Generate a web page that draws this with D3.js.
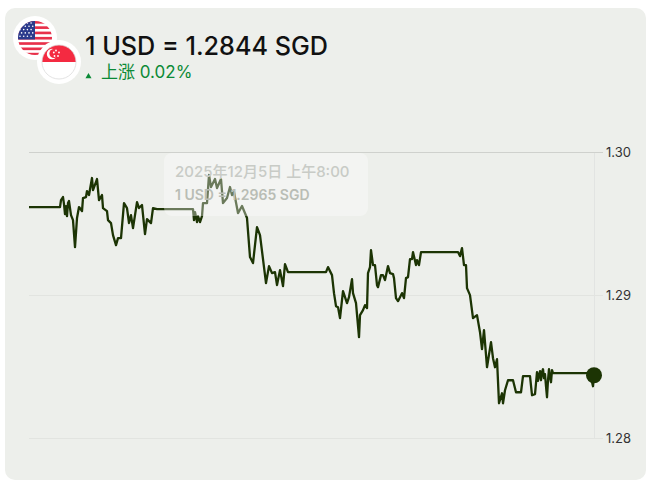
<!DOCTYPE html>
<html><head><meta charset="utf-8">
<script src="https://cdn.jsdelivr.net/npm/d3@7/dist/d3.min.js"></script>
<style>html,body{margin:0;padding:0;background:#fff}svg{display:block}text{font-family:Inter,"Noto Sans CJK SC",sans-serif}</style>
</head><body><svg id="c" width="652" height="492"></svg>
<script>
const titleText = "1 USD = 1.2844 SGD";
const changeText = "上涨 0.02%";
const tipDate = "2025年12月5日 上午8:00";
const tipRate = "1 USD = 1.2965 SGD";
const yTicks = [1.30, 1.29, 1.28];
const steps = [0,31,32,34,35,36,37,38,39,40,42,44,46,48,50,53,54,57,58,60,63,64,68,70,73,74,78,79,82,84,87,89,92,95,98,100,102,104,108,110,113,116,118,122,124,128,164,165,166,168,169,171,173,174,178,180,182,186,188,192,194,198,201,203,205,209,213,218,221,224,228,231,237,240,243,246,248,251,254,256,259,297,299,303,305,307,309,311,314,318,320,323,324,327,330,331,334,336,338,339,341,342,344,346,348,349,352,354,356,359,361,364,365,367,369,373,375,377,379,381,383,384,387,388,390,392,429,431,433,435,437,438,441,444,448,451,453,455,458,462,464,466,468,470,473,474,476,479,484,487,492,494,501,503,506,508,509,510,511,512,513,514,515,516,517,518,519,520,521,522,523,524,561,564,565];
const rates = [1.29615,1.29615,1.29664,1.29685,1.29636,1.29566,1.29622,1.29552,1.29643,1.29657,1.29559,1.29524,1.29335,1.29538,1.29615,1.29587,1.29678,1.29685,1.29727,1.29699,1.29818,1.29734,1.29811,1.29664,1.29699,1.29608,1.29587,1.29524,1.29503,1.29419,1.29349,1.29398,1.29398,1.29643,1.29608,1.29503,1.29559,1.29468,1.2965,1.29608,1.29629,1.29426,1.29531,1.29503,1.29608,1.29601,1.29601,1.29524,1.2958,1.2951,1.29552,1.2951,1.29552,1.29643,1.29643,1.29839,1.29755,1.29811,1.29748,1.29811,1.29643,1.29678,1.29755,1.29699,1.2972,1.29573,1.29622,1.29538,1.29265,1.29223,1.29475,1.29419,1.29083,1.29202,1.29153,1.2916,1.29069,1.29174,1.29062,1.29216,1.2916,1.2916,1.29195,1.29139,1.29013,1.28922,1.28915,1.28838,1.29027,1.28943,1.28985,1.29111,1.29013,1.28943,1.28705,1.28859,1.28894,1.28929,1.28908,1.29153,1.29195,1.29314,1.29209,1.29209,1.29069,1.29055,1.29139,1.29139,1.29104,1.29202,1.29153,1.29146,1.29118,1.28978,1.28957,1.29013,1.28978,1.29118,1.29125,1.29251,1.29251,1.293,1.29209,1.29244,1.29209,1.293,1.293,1.29272,1.29328,1.29209,1.29209,1.29048,1.28999,1.28838,1.28859,1.2874,1.28621,1.28754,1.28495,1.2867,1.28558,1.28495,1.28551,1.28243,1.28313,1.28243,1.28334,1.28404,1.28404,1.2832,1.2832,1.28432,1.28432,1.28299,1.28306,1.2846,1.284,1.28439,1.28467,1.28404,1.2846,1.28481,1.28418,1.28446,1.28362,1.28285,1.28404,1.28481,1.28425,1.2839,1.28474,1.28453,1.28453,1.28362,1.28439];

const svg = d3.select("#c");
const ink = "#1c3404";
svg.append("rect").attr("x",5).attr("y",8).attr("width",641).attr("height",472).attr("rx",10).attr("fill","#edefeb");

const x = d3.scaleLinear().domain([0,565]).range([29,594]);
const y = d3.scaleLinear().domain([1.28,1.30]).range([438,152]);

// axis
const ax = svg.append("g").attr("transform","translate(594,0)")
  .call(d3.axisRight(y).tickValues(yTicks).tickFormat(d3.format(".2f")).tickSize(0).tickPadding(12));
ax.select(".domain").attr("stroke","#e2e4e2").attr("stroke-width",1);
ax.selectAll("text").attr("font-size",13).attr("fill","#333").style("font-family","Inter");
const grid = svg.append("g");
grid.selectAll("line").data(yTicks).join("line")
  .attr("x1",29).attr("x2",603)
  .attr("y1",d=>Math.round(y(d))+0.5).attr("y2",d=>Math.round(y(d))+0.5)
  .attr("stroke",(d,i)=>i===0?"#cfd1cd":"#e2e4e0");

// line
const line = d3.line().x((d,i)=>x(steps[i])).y(d=>y(d)).curve(d3.curveLinear);
svg.append("path").datum(rates).attr("d",line).attr("fill","none").attr("stroke",ink).attr("stroke-width",2.3).attr("stroke-linejoin","round");
svg.append("circle").attr("cx",x(steps[steps.length-1])).attr("cy",y(rates[rates.length-1])).attr("r",8).attr("fill",ink);

// tooltip
const tip = svg.append("g");
tip.append("rect").attr("x",164).attr("y",153).attr("width",204).attr("height",63).attr("rx",8).attr("fill","#fff").attr("fill-opacity",0.35);
tip.append("text").attr("x",175).attr("y",177).attr("font-size",15).attr("font-weight",500).attr("fill","#c8cbc6").text(tipDate);
tip.append("text").attr("x",175).attr("y",200).attr("font-size",14).attr("font-weight",600).attr("fill","#b9bdb5").text(tipRate);

// flags
const defs = svg.append("defs");
defs.append("clipPath").attr("id","us").append("circle").attr("cx",35).attr("cy",38).attr("r",17);
defs.append("clipPath").attr("id","sg").append("circle").attr("cx",59).attr("cy",62).attr("r",17);
svg.append("circle").attr("cx",35).attr("cy",38).attr("r",22).attr("fill","#fff");
const us = svg.append("g").attr("clip-path","url(#us)");
us.append("rect").attr("x",18).attr("y",21).attr("width",34).attr("height",34).attr("fill","#fff");
d3.range(7).forEach(i=>us.append("rect").attr("x",18).attr("y",21+i*5.3).attr("width",34).attr("height",2.65).attr("fill","#e8304a"));
us.append("rect").attr("x",18).attr("y",21).attr("width",17).attr("height",18.5).attr("fill","#2b3a8c");
d3.range(5).forEach(r=>d3.range(4).forEach(c=>us.append("circle").attr("cx",20+c*3.7+(r%2)*1.6).attr("cy",23+r*3.3).attr("r",0.8).attr("fill","#fff")));
svg.append("circle").attr("cx",59).attr("cy",62).attr("r",22).attr("fill","#fff");
const sg = svg.append("g").attr("clip-path","url(#sg)");
sg.append("rect").attr("x",42).attr("y",45).attr("width",34).attr("height",17).attr("fill","#f42a41");
sg.append("rect").attr("x",42).attr("y",62).attr("width",34).attr("height",17).attr("fill","#fff");
sg.append("circle").attr("cx",52).attr("cy",54).attr("r",5.2).attr("fill","#fff");
sg.append("circle").attr("cx",54).attr("cy",53.5).attr("r",4.6).attr("fill","#f42a41");
[[55,50.5],[58,52.5],[57,56],[53.5,56],[52.8,52.5]].forEach(p=>sg.append("circle").attr("cx",p[0]+1).attr("cy",p[1]).attr("r",0.9).attr("fill","#fff"));
svg.append("circle").attr("cx",59).attr("cy",62).attr("r",17).attr("fill","none").attr("stroke","#dcdcdc").attr("stroke-width",0.8);

// title
svg.append("text").attr("x",85).attr("y",55).attr("font-size",25.2).attr("font-weight",500).attr("fill","#111").text(titleText);
svg.append("path").attr("d",d3.symbol(d3.symbolTriangle,16)()).attr("transform","translate(88.5,76.5)").attr("fill","#0b8a36");
svg.append("text").attr("x",101).attr("y",78).attr("font-size",17).attr("fill","#0b8a36").text(changeText);
</script></body></html>
